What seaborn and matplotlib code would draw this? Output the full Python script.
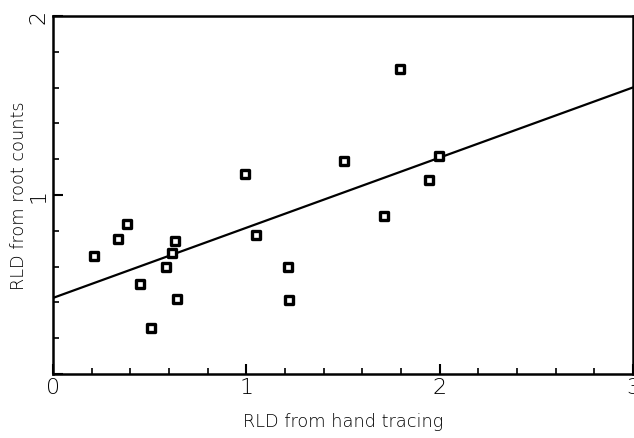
import matplotlib
matplotlib.use("Agg")
import matplotlib.pyplot as plt
from matplotlib.ticker import MultipleLocator
import numpy as np
import pandas as pd
import seaborn as sns

# RLD measured by hand tracing (x) and by root counts (y)
hand_tracing = [0.212, 0.336, 0.382, 0.450, 0.506, 0.584, 0.615, 0.630, 0.641,
                0.992, 1.049, 1.214, 1.220, 1.504, 1.711, 1.793, 1.943, 1.995]
root_counts = [0.659, 0.754, 0.838, 0.503, 0.257, 0.598, 0.676, 0.743, 0.419,
               1.117, 0.777, 0.598, 0.413, 1.190, 0.883, 1.704, 1.084, 1.218]

# fitted line
fit_intercept = 0.425
fit_slope = 0.392
fit_x = [0.0, 3.0]

x_ticks = [0, 1, 2, 3]
x_tick_labels = ["0", "1", "2", "3"]
y_ticks = [0, 1, 2]
y_tick_labels = ["", "1", "2"]

sns.set_theme(style="ticks")
plt.rcParams["font.family"] = ["DejaVu Sans"]
plt.rcParams["text.color"] = "black"
plt.rcParams["axes.labelcolor"] = "black"
plt.rcParams["xtick.color"] = "black"
plt.rcParams["ytick.color"] = "black"

df = pd.DataFrame({"hand": hand_tracing, "roots": root_counts})
line_df = pd.DataFrame({"x": fit_x,
                        "y": [fit_intercept + fit_slope * v for v in fit_x]})

fig = plt.figure(figsize=(6.34, 4.39), dpi=100)
ax = fig.add_axes([53 / 634, 64 / 439, 580 / 634, 358 / 439])

sns.lineplot(data=line_df, x="x", y="y", color="black", linewidth=1.6, ax=ax)
sns.scatterplot(data=df, x="hand", y="roots", marker="s", s=26,
                facecolor="white", edgecolor="black", linewidth=2.4,
                ax=ax, zorder=3)

ax.set_xlim(0, 3)
ax.set_ylim(0, 2)
ax.set_xticks(x_ticks)
ax.set_xticklabels(x_tick_labels, fontsize=16, fontweight="light")
ax.set_yticks(y_ticks)
ax.set_yticklabels(y_tick_labels, fontsize=16, fontweight="light",
                   rotation=90, va="center")
ax.xaxis.set_minor_locator(MultipleLocator(0.2))
ax.yaxis.set_minor_locator(MultipleLocator(0.2))
ax.tick_params(which="major", direction="in", length=7, width=1.5,
               top=False, right=False, color="black", labelcolor="black")
ax.tick_params(axis="x", which="major", pad=2)
ax.tick_params(axis="y", which="major", pad=3)
ax.tick_params(which="minor", direction="in", length=4, width=1.2,
               top=False, right=False, color="black")

for side in ["left", "bottom", "top", "right"]:
    ax.spines[side].set_linewidth(1.8)
    ax.spines[side].set_color("black")

ax.set_xlabel("RLD from hand tracing", fontsize=12.8, fontweight="light",
              color="black")
ax.set_ylabel("RLD from root counts", fontsize=12.8, fontweight="light",
              color="black")
ax.xaxis.set_label_coords(0.5, -(413 - 375) / 358)
ax.yaxis.set_label_coords(-(53 - 28) / 580, 0.5)

fig.savefig("out.png", dpi=100, facecolor="white")
